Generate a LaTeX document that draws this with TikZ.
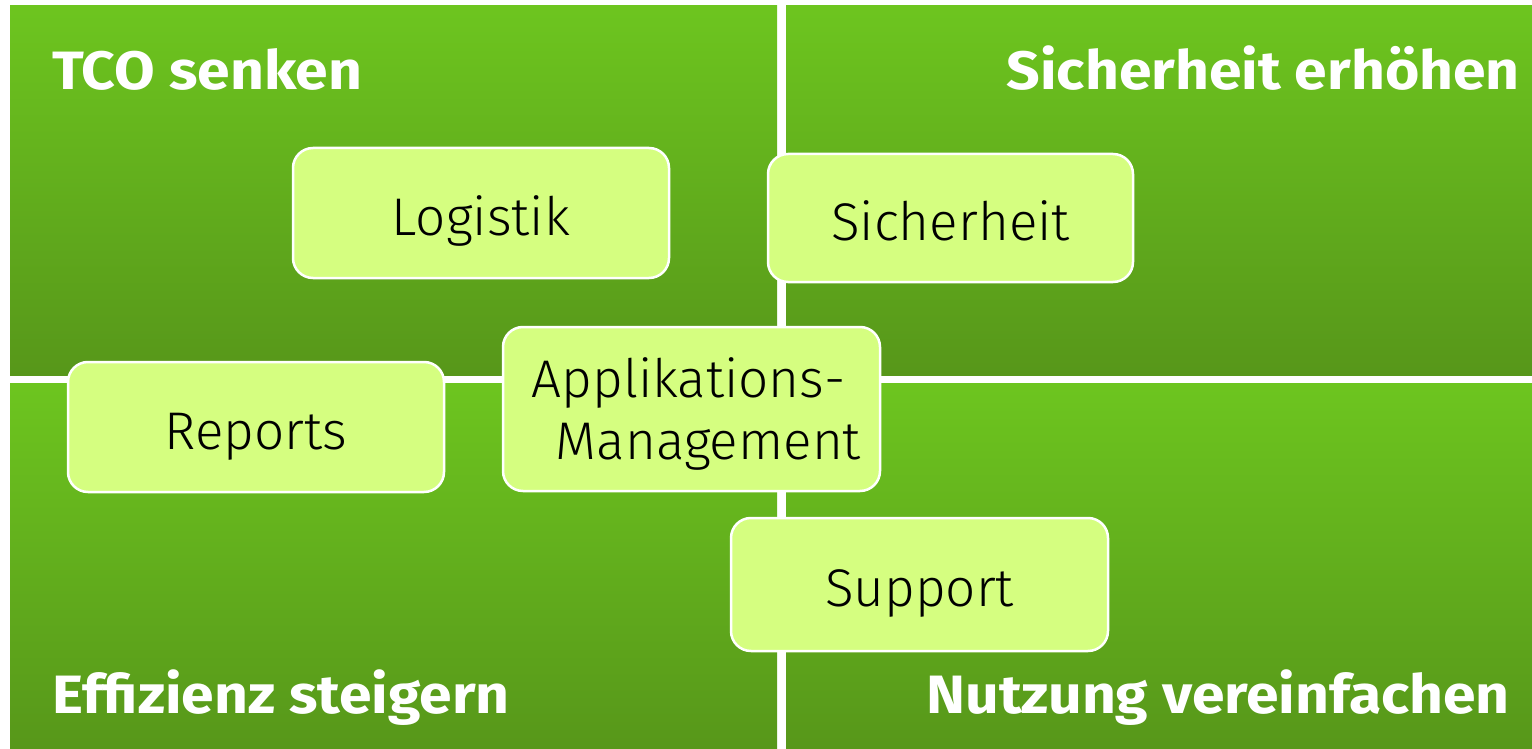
\documentclass[tikz,border=0pt]{standalone}
\usepackage{graphicx}
\usepackage{fontspec}
\setmainfont{Fira Sans}
\newfontfamily\boxfont{Fira Sans Light}
\newcommand{\qwide}[1]{\scalebox{1.09}[1]{#1}}
\definecolor{qtop}{HTML}{6DC51F}
\definecolor{qbot}{HTML}{57971A}
\definecolor{boxfill}{HTML}{D5FE80}
\tikzset{
  quad/.style={top color=qtop, bottom color=qbot, draw=none},
  qtitle/.style={text=white, font=\bfseries\fontsize{54}{60}\selectfont, inner sep=0pt},
  topic/.style={rounded corners=20pt, draw=white, line width=2.5pt, fill=boxfill,
    font=\boxfont\fontsize{53}{62}\selectfont, text=black, inner sep=0pt, align=center},
  oneline/.style={text height=44pt, text depth=0pt},
}
\begin{document}
\begin{tikzpicture}[x=1pt,y=-1pt]
\useasboundingbox (0,0) rectangle (1532,749);
\fill[white] (0,0) rectangle (1532,749);
% quadrants
\path[quad] (10,6) rectangle (777,375);
\path[quad] (786,6) rectangle (1532,375);
\path[quad] (10,383) rectangle (777,749);
\path[quad] (786,383) rectangle (1532,749);
% titles
\node[qtitle, anchor=base west] (t1) at (52,90) {\qwide{TCO senken}};
\node[qtitle, anchor=base east] (t2) at (1520,90) {\qwide{Sicherheit erhöhen}};
\node[qtitle, anchor=base west] (t3) at (52,713) {\qwide{Effizienz steigern}};
\node[qtitle, anchor=base east] (t4) at (1510,713) {\qwide{Nutzung vereinfachen}};
% topic boxes
\node[topic, oneline, minimum width=376pt, minimum height=130pt] (log) at (481,213) {Logistik};
\node[topic, oneline, minimum width=365pt, minimum height=128pt] (sich) at (950.5,218) {Sicherheit};
\node[topic, oneline, minimum width=376pt, minimum height=130pt] (rep) at (256,427) {Reports};
\node[topic, text depth=0pt, minimum width=377pt, minimum height=164pt, align=left] (app) at (691.5,409) {\hspace*{10pt}Applikations-\\\hspace*{34pt}Management};
\node[topic, oneline, minimum width=377pt, minimum height=133pt] (sup) at (919.5,584.5) {Support};
\end{tikzpicture}
\end{document}
